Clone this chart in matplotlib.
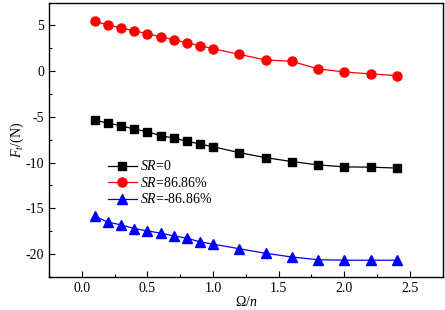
import numpy as np
from matplotlib import pyplot as plt
from matplotlib.ticker import MultipleLocator

# Omega/n values
omega_n = [0.1, 0.2, 0.3, 0.4, 0.5, 0.6, 0.7, 0.8, 0.9, 1.0,
           1.2, 1.4, 1.6, 1.8, 2.0, 2.2, 2.4]

# F_t (N) for each slip ratio
ft_sr0 = [-5.4, -5.68, -6.0, -6.33, -6.65, -7.05, -7.34, -7.66, -7.98, -8.27,
          -8.92, -9.46, -9.89, -10.25, -10.47, -10.5, -10.6]
ft_sr_pos = [5.4, 5.04, 4.67, 4.38, 4.06, 3.73, 3.41, 3.08, 2.75, 2.43,
             1.81, 1.2, 1.05, 0.22, -0.11, -0.33, -0.51]
ft_sr_neg = [-15.85, -16.5, -16.8, -17.2, -17.45, -17.7, -18.0, -18.25, -18.65, -18.9,
             -19.4, -19.9, -20.3, -20.6, -20.65, -20.65, -20.65]

labels = ["$\\mathit{SR}$=0", "$\\mathit{SR}$=86.86%", "$\\mathit{SR}$=-86.86%"]

plt.rcParams["font.family"] = ["Liberation Serif", "DejaVu Serif"]
plt.rcParams["mathtext.fontset"] = "custom"
plt.rcParams["mathtext.it"] = "Liberation Serif:italic"
plt.rcParams["mathtext.rm"] = "Liberation Serif"
plt.rcParams["font.size"] = 10
plt.rcParams["axes.unicode_minus"] = False

fig = plt.figure(figsize=(4.45, 3.1), dpi=100)
ax = fig.add_axes([0.110, 0.106, 0.885, 0.884])

ax.plot(omega_n, ft_sr0, color="black", marker="s", markersize=5.5, linewidth=0.9, label=labels[0])
ax.plot(omega_n, ft_sr_pos, color="red", marker="o", markersize=6.5, linewidth=0.9, label=labels[1])
ax.plot(omega_n, ft_sr_neg, color="blue", marker="^", markersize=6.5, linewidth=0.9, label=labels[2])

ax.set_xlim(-0.25, 2.75)
ax.set_ylim(-22.5, 7.4)
ax.xaxis.set_major_locator(MultipleLocator(0.5))
ax.xaxis.set_minor_locator(MultipleLocator(0.25))
ax.yaxis.set_major_locator(MultipleLocator(5))
ax.yaxis.set_minor_locator(MultipleLocator(2.5))
ax.tick_params(which="both", direction="in", top=False, right=False, labelsize=10)
ax.tick_params(which="major", length=4, width=0.8)
ax.tick_params(which="minor", length=2, width=0.8)
for s in ax.spines.values():
    s.set_linewidth(1.0)

ax.set_xlabel("$\\mathit{\\Omega/n}$", fontsize=10, labelpad=0)
ax.set_ylabel("$\\mathit{F_t}$/(N)", fontsize=10, labelpad=0)

ax.legend(loc="upper left", bbox_to_anchor=(0.135, 0.45), frameon=False, fontsize=10,
          handlelength=2.1, handletextpad=0.2, labelspacing=0.18, borderaxespad=0)

fig.savefig("out.png", dpi=100)
